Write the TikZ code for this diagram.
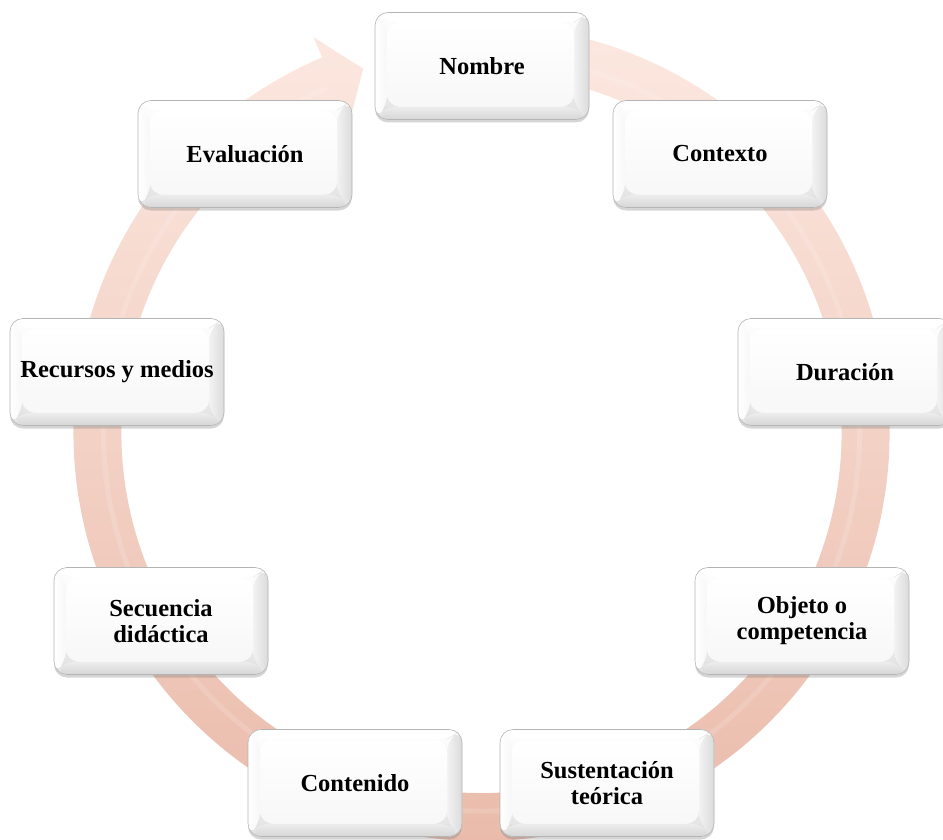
\documentclass[tikz,border=0pt]{standalone}
\usepackage{fontspec}
\setmainfont{Liberation Serif}
\usetikzlibrary{shadows,calc}
\definecolor{ringtop}{RGB}{253,234,227}
\definecolor{ringmid}{RGB}{251,222,211}
\definecolor{ringbot}{RGB}{233,185,168}
\definecolor{bevelgray}{RGB}{226,226,226}
\definecolor{edgegray}{RGB}{180,180,180}
\tikzset{
  bevelbox/.style={rectangle, rounded corners=13pt, minimum width=214pt, minimum height=107pt,
    text width=206pt, inner sep=3pt, align=flush center,
    font=\bfseries\fontsize{24.5}{26}\selectfont,
    draw=edgegray, line width=0.6pt, fill=white,
    drop shadow={shadow xshift=0pt, shadow yshift=-3pt, opacity=0.3, fill=black!55},
    path picture={
      \coordinate (oNW) at (path picture bounding box.north west);
      \coordinate (oNE) at (path picture bounding box.north east);
      \coordinate (oSW) at (path picture bounding box.south west);
      \coordinate (oSE) at (path picture bounding box.south east);
      \coordinate (iNW) at ($(oNW)+(12pt,-10pt)$);
      \coordinate (iNE) at ($(oNE)+(-15pt,-10pt)$);
      \coordinate (iSW) at ($(oSW)+(12pt,13pt)$);
      \coordinate (iSE) at ($(oSE)+(-15pt,13pt)$);
      \fill[top color=white, bottom color=bevelgray] (oSW) rectangle (oNE);
      \fill[white] (oNW) -- (oNE) -- (iNE) -- (iNW) -- cycle;
      \fill[left color=white, right color=white!97!black] (oNW) -- (iNW) -- (iSW) -- (oSW) -- cycle;
      \fill[left color=white!95!black, right color=white!86!black] (oNE) -- (iNE) -- (iSE) -- (oSE) -- cycle;
      \fill[top color=white!93!black, bottom color=white!84!black] (oSW) -- (iSW) -- (iSE) -- (oSE) -- cycle;
      \fill[top color=white, bottom color=white!97!black] (iSW) rectangle (iNE);
      \draw[white!88!black, line width=0.4pt] (iNE) -- (oNE) (iSE) -- (oSE) (iSW) -- (oSW);
    }}
}
\begin{document}
\begin{tikzpicture}[x=1pt,y=1pt]
\useasboundingbox (0,0) rectangle (943,-840);
% circular arrow
\begin{scope}[shift={(481.5,-433)}]
  \path[top color=ringtop, middle color=ringmid, bottom color=ringbot]
    (103:408) arc[start angle=103, end angle=-247, radius=408]
    -- (113:430) -- (108:383) -- (113:338)
    -- (-247:360) arc[start angle=-247, end angle=103, radius=360] -- cycle;
  \draw[white, opacity=0.14, line width=5pt]
    (103:378) arc[start angle=103, end angle=-246, radius=378];
\end{scope}
% boxes
\node[bevelbox] (nombre) at (482,-66) {Nombre};
\node[bevelbox] (contexto) at (720,-154) {Contexto};
\node[bevelbox] (duracion) at (845,-372) {Duración};
\node[bevelbox] (objeto) at (802,-621) {Objeto o\\competencia};
\node[bevelbox] (sustentacion) at (607,-783) {Sustentación\\teórica};
\node[bevelbox] (contenido) at (355,-783) {Contenido};
\node[bevelbox] (secuencia) at (161,-621) {Secuencia\\didáctica};
\node[bevelbox] (recursos) at (117,-372) {Recursos y medios};
\node[bevelbox] (evaluacion) at (245,-154) {Evaluación};
\end{tikzpicture}
\end{document}
